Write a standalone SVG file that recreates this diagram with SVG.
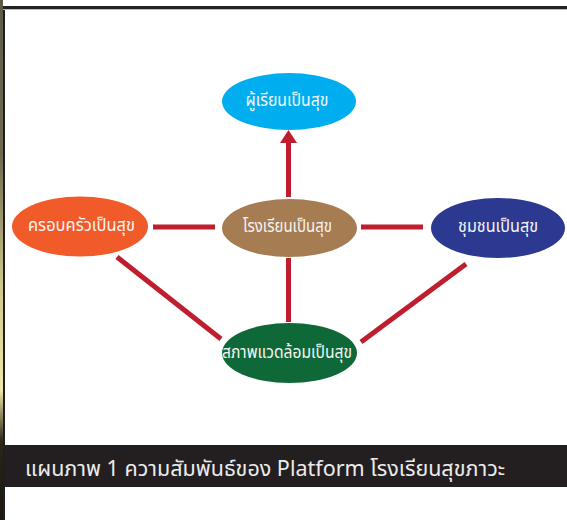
<svg xmlns="http://www.w3.org/2000/svg" width="567" height="520" viewBox="0 0 567 520">
<style>
.lbl{font-family:"Noto Sans Thai","Noto Sans Thai UI","Noto Sans",sans-serif;font-size:17px;font-weight:normal;fill:#f4f4f4;text-anchor:middle;dominant-baseline:central}
.con{stroke:#be1e2d;stroke-width:5;fill:none}
.cap{font-family:"Noto Sans Thai","Noto Sans Thai UI","Noto Sans",sans-serif;font-size:22px;font-weight:normal;fill:#ececec}
</style>
<defs>
<linearGradient id="strip" x1="0" y1="0" x2="0" y2="1">
<stop offset="0" stop-color="#5b5b48"/>
<stop offset="0.3" stop-color="#6e6a50"/>
<stop offset="0.55" stop-color="#cfc88a"/>
<stop offset="0.75" stop-color="#f0e8a8"/>
<stop offset="0.85" stop-color="#2a2418"/>
<stop offset="1" stop-color="#1a1612"/>
</linearGradient>
</defs>
<rect width="567" height="520" fill="#ffffff"/>
<rect x="0" y="0" width="3" height="520" fill="url(#strip)"/>
<rect x="3" y="6" width="2" height="514" fill="#1e1e1e"/>
<rect x="3" y="6" width="564" height="3" fill="#222222"/>
<rect x="3" y="9" width="564" height="1" fill="#bbbbbb"/>
<g id="connectors">
<line class="con" x1="288.5" y1="197" x2="288.5" y2="141"/>
<polygon points="288.5,130 297,143 280,143" fill="#be1e2d"/>
<line class="con" x1="288.5" y1="258" x2="288.5" y2="322"/>
<line class="con" x1="153" y1="227" x2="215" y2="227"/>
<line class="con" x1="361" y1="227" x2="423" y2="227"/>
<line class="con" x1="117" y1="257" x2="221" y2="339"/>
<line class="con" x1="466" y1="264" x2="361" y2="342"/>
</g>
<g id="learner">
<ellipse cx="289" cy="101.5" rx="67" ry="28.5" fill="#00aeef"/>
<text class="lbl" x="287" y="101" textLength="83" lengthAdjust="spacingAndGlyphs">ผู้เรียนเป็นสุข</text>
</g>
<g id="family">
<ellipse cx="80" cy="226.5" rx="68" ry="30" fill="#f15a29"/>
<text class="lbl" x="81.5" y="226" textLength="107" lengthAdjust="spacingAndGlyphs">ครอบครัวเป็นสุข</text>
</g>
<g id="school">
<ellipse cx="289.5" cy="228" rx="67.5" ry="29" fill="#a67c52"/>
<text class="lbl" x="287.5" y="227" textLength="89" lengthAdjust="spacingAndGlyphs">โรงเรียนเป็นสุข</text>
</g>
<g id="community">
<ellipse cx="498" cy="228" rx="67" ry="30" fill="#2b3990"/>
<text class="lbl" x="498" y="227" textLength="80" lengthAdjust="spacingAndGlyphs">ชุมชนเป็นสุข</text>
</g>
<g id="environment">
<ellipse cx="289.5" cy="353" rx="67.5" ry="30" fill="#0f6838"/>
<text class="lbl" x="287" y="353" textLength="130" lengthAdjust="spacingAndGlyphs">สภาพแวดล้อมเป็นสุข</text>
</g>
<g id="caption">
<rect x="5" y="445" width="562" height="42" fill="#231f20"/>
<text class="cap" x="25" y="476" textLength="480" lengthAdjust="spacingAndGlyphs">แผนภาพ 1 ความสัมพันธ์ของ Platform โรงเรียนสุขภาวะ</text>
</g>
</svg>
